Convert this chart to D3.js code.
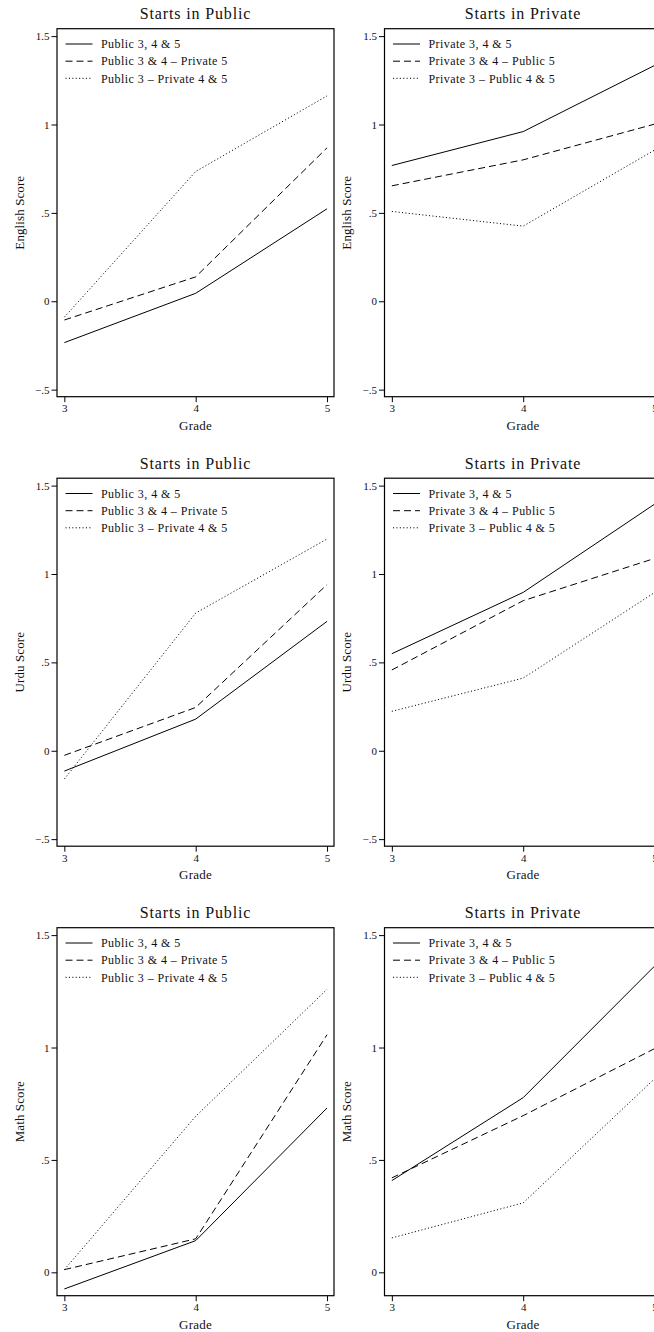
<!DOCTYPE html>
<html>
<head>
<meta charset="utf-8">
<script src="https://cdn.jsdelivr.net/npm/d3@7"></script>
<style>
  html, body { margin: 0; padding: 0; background: #fff; overflow: hidden; }
  svg { display: block; }
  text { font-family: "Liberation Serif", "DejaVu Serif", serif; fill: #111; }
</style>
</head>
<body>
<svg id="chart" width="654" height="1332"></svg>
<script>
// ---------- data ----------
const grades = [3, 4, 5];
const gradeTickLabels = ["3", "4", "5"];

const yTicksWide = [-0.5, 0, 0.5, 1, 1.5];
const yTickLabelsWide = ["\u2212.5", "0", ".5", "1", "1.5"];
const yTicksMath = [0, 0.5, 1, 1.5];
const yTickLabelsMath = ["0", ".5", "1", "1.5"];

const panelTitles = ["Starts in Public", "Starts in Private"];
const subjectTitles = ["English Score", "Urdu Score", "Math Score"];
const xTitle = "Grade";

const seriesPublic = ["Public 3, 4 & 5", "Public 3 & 4 \u2013 Private 5", "Public 3 \u2013 Private 4 & 5"];
const seriesPrivate = ["Private 3, 4 & 5", "Private 3 & 4 \u2013 Public 5", "Private 3 \u2013 Public 4 & 5"];

// English
const engPubStay   = [-0.234, 0.045, 0.523];
const engPubSwitch5 = [-0.106, 0.138, 0.868];
const engPubSwitch4 = [-0.090, 0.734, 1.162];
const engPriStay   = [0.768, 0.960, 1.334];
const engPriSwitch5 = [0.653, 0.800, 1.002];
const engPriSwitch4 = [0.508, 0.425, 0.855];
// Urdu
const urdPubStay   = [-0.115, 0.179, 0.732];
const urdPubSwitch5 = [-0.026, 0.245, 0.940];
const urdPubSwitch4 = [-0.160, 0.779, 1.198];
const urdPriStay   = [0.549, 0.896, 1.395];
const urdPriSwitch5 = [0.457, 0.849, 1.088];
const urdPriSwitch4 = [0.223, 0.411, 0.895];
// Math
const matPubStay   = [-0.074, 0.141, 0.731];
const matPubSwitch5 = [0.012, 0.149, 1.057];
const matPubSwitch4 = [0.012, 0.694, 1.259];
const matPriStay   = [0.408, 0.777, 1.362];
const matPriSwitch5 = [0.420, 0.697, 0.995];
const matPriSwitch4 = [0.153, 0.309, 0.861];

// ---------- layout ----------
const svg = d3.select("#chart");
const panelW = 277, panelH = 368;
const colX = [57, 384.5];
const rowY = [28.7, 478.2, 927.7];
const xDomain = [2.944, 5.053];
const yDomainWide = [-0.54, 1.542];
const yDomainMath = [-0.104, 1.533];
const dashes = [null, "7,4", "1.1,2.3"];
const fontStack = '"Liberation Serif", "DejaVu Serif", serif';

const panels = [
  {row: 0, col: 0, series: [engPubStay, engPubSwitch5, engPubSwitch4], names: seriesPublic, yd: yDomainWide, yt: yTicksWide, yl: yTickLabelsWide, ytitle: subjectTitles[0]},
  {row: 0, col: 1, series: [engPriStay, engPriSwitch5, engPriSwitch4], names: seriesPrivate, yd: yDomainWide, yt: yTicksWide, yl: yTickLabelsWide, ytitle: subjectTitles[0]},
  {row: 1, col: 0, series: [urdPubStay, urdPubSwitch5, urdPubSwitch4], names: seriesPublic, yd: yDomainWide, yt: yTicksWide, yl: yTickLabelsWide, ytitle: subjectTitles[1]},
  {row: 1, col: 1, series: [urdPriStay, urdPriSwitch5, urdPriSwitch4], names: seriesPrivate, yd: yDomainWide, yt: yTicksWide, yl: yTickLabelsWide, ytitle: subjectTitles[1]},
  {row: 2, col: 0, series: [matPubStay, matPubSwitch5, matPubSwitch4], names: seriesPublic, yd: yDomainMath, yt: yTicksMath, yl: yTickLabelsMath, ytitle: subjectTitles[2]},
  {row: 2, col: 1, series: [matPriStay, matPriSwitch5, matPriSwitch4], names: seriesPrivate, yd: yDomainMath, yt: yTicksMath, yl: yTickLabelsMath, ytitle: subjectTitles[2]}
];

panels.forEach(p => {
  const x0 = colX[p.col], y0 = rowY[p.row];
  const x = d3.scaleLinear().domain(xDomain).range([x0, x0 + panelW]);
  const y = d3.scaleLinear().domain(p.yd).range([y0 + panelH, y0]);
  const g = svg.append("g");

  // title
  g.append("text")
    .attr("x", x0 + panelW / 2).attr("y", y0 - 9.4)
    .attr("text-anchor", "middle").attr("font-size", 16)
    .attr("letter-spacing", 0.85)
    .text(panelTitles[p.col]);

  // lines
  const line = d3.line().x((d, i) => x(grades[i])).y(d => y(d));
  p.series.forEach((s, i) => {
    g.append("path").datum(s)
      .attr("d", line)
      .attr("fill", "none").attr("stroke", "#000").attr("stroke-width", 1)
      .attr("stroke-dasharray", dashes[i]);
  });

  // frame
  g.append("rect")
    .attr("x", x0).attr("y", y0).attr("width", panelW).attr("height", panelH)
    .attr("fill", "none").attr("stroke", "#000").attr("stroke-width", 1.2);

  // y axis
  const ya = g.append("g").attr("transform", `translate(${x0},0)`)
    .call(d3.axisLeft(y).tickValues(p.yt).tickSize(5.5).tickPadding(2)
      .tickFormat((d, i) => p.yl[i]));
  ya.select(".domain").remove();
  ya.selectAll("line").attr("stroke", "#000").attr("stroke-width", 1);
  ya.selectAll("text").attr("font-size", 11).attr("fill", "#111")
    .style("font-family", fontStack);

  // x axis
  const xa = g.append("g").attr("transform", `translate(0,${y0 + panelH})`)
    .call(d3.axisBottom(x).tickValues(grades).tickSize(5.5).tickPadding(2.5)
      .tickFormat((d, i) => gradeTickLabels[i]));
  xa.select(".domain").remove();
  xa.selectAll("line").attr("stroke", "#000").attr("stroke-width", 1);
  xa.selectAll("text").attr("font-size", 11).attr("fill", "#111")
    .style("font-family", fontStack);

  // axis titles
  g.append("text")
    .attr("x", x0 + panelW / 2).attr("y", y0 + panelH + 33)
    .attr("text-anchor", "middle").attr("font-size", 13)
    .attr("letter-spacing", 0.2)
    .text(xTitle);
  g.append("text")
    .attr("transform", `translate(${x0 - 37.7},${y0 + panelH / 2}) rotate(-90)`)
    .attr("dy", "0.35em")
    .attr("text-anchor", "middle").attr("font-size", 13)
    .attr("letter-spacing", 0.1)
    .text(p.ytitle);

  // legend
  const legRows = [15.3, 32.5, 49.6];
  p.names.forEach((name, i) => {
    const ly = y0 + legRows[i];
    g.append("line")
      .attr("x1", x0 + 8.5).attr("x2", x0 + 35.5).attr("y1", ly).attr("y2", ly)
      .attr("stroke", "#000").attr("stroke-width", 1)
      .attr("stroke-dasharray", dashes[i]);
    g.append("text")
      .attr("x", x0 + 44).attr("y", ly).attr("dy", "0.35em")
      .attr("font-size", 12).attr("letter-spacing", 0.45)
      .text(name);
  });
});
</script>
</body>
</html>
